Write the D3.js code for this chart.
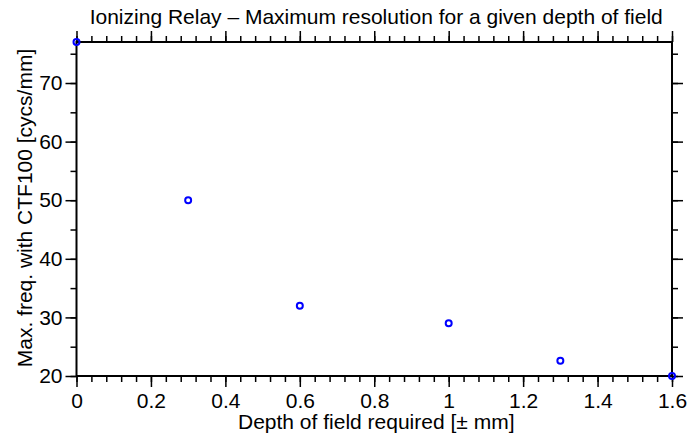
<!DOCTYPE html>
<meta charset="utf-8">
<script src="https://d3js.org/d3.v7.min.js"></script>
<style>
html, body { margin: 0; padding: 0; background: #fff; }
text { font-family: "Liberation Sans", Arial, sans-serif; fill: #000; }
.axis path, .axis line { stroke: #000; }
</style>
<body>
<div id="chart"></div>
<script>
// data
var depth = [0, 0.3, 0.6, 1.0, 1.3, 1.6];
var maxFreq = [77, 50, 32, 29, 22.6, 20];
var xTicks = [0, 0.2, 0.4, 0.6, 0.8, 1, 1.2, 1.4, 1.6];
var yTicks = [20, 30, 40, 50, 60, 70];
var xMinor = d3.range(0, 41).map(function(i) { return i * 0.04; });
var yMinor = [20, 25, 30, 35, 40, 45, 50, 55, 60, 65, 70, 75];

var width = 688, height = 434;
var mLeft = 76.5, mRight = 672, mTop = 42, mBottom = 376;
var fontSize = "21px";

var svg = d3.select("#chart").append("svg")
  .attr("width", width)
  .attr("height", height);

var x = d3.scaleLinear().domain([0, 1.6]).range([mLeft, mRight]);
var y = d3.scaleLinear().domain([20, 77]).range([mBottom, mTop]);

var fmt = function(d) { return String(+d.toFixed(1)); };

function addAxis(axis, tx, ty, labels) {
  var g = svg.append("g")
    .attr("class", "axis")
    .attr("transform", "translate(" + tx + "," + ty + ")")
    .call(axis);
  g.select(".domain").remove();
  g.selectAll("line").attr("stroke-width", 1.5);
  g.selectAll("text").style("font-size", fontSize);
  if (!labels) g.selectAll("text").remove();
  return g;
}

// minor ticks
addAxis(d3.axisBottom(x).tickValues(xMinor).tickSize(6).tickFormat(""), 0, mBottom, false);
addAxis(d3.axisTop(x).tickValues(xMinor).tickSize(6).tickFormat(""), 0, mTop, false);
addAxis(d3.axisLeft(y).tickValues(yMinor).tickSize(6).tickFormat(""), mLeft, 0, false);
addAxis(d3.axisRight(y).tickValues(yMinor).tickSize(6).tickFormat(""), mRight, 0, false);

// major ticks
addAxis(d3.axisBottom(x).tickValues(xTicks).tickSize(11).tickPadding(6).tickFormat(fmt), 0, mBottom, true);
addAxis(d3.axisTop(x).tickValues(xTicks).tickSize(11).tickFormat(""), 0, mTop, false);
addAxis(d3.axisLeft(y).tickValues(yTicks).tickSize(11).tickPadding(3).tickFormat(fmt), mLeft, 0, true);
addAxis(d3.axisRight(y).tickValues(yTicks).tickSize(11).tickFormat(""), mRight, 0, false);

// frame
svg.append("rect")
  .attr("x", mLeft).attr("y", mTop)
  .attr("width", mRight - mLeft).attr("height", mBottom - mTop)
  .attr("fill", "none").attr("stroke", "#000").attr("stroke-width", 2);

// points
svg.append("g").selectAll("circle")
  .data(depth)
  .enter().append("circle")
    .attr("cx", function(d) { return x(d); })
    .attr("cy", function(d, i) { return y(maxFreq[i]); })
    .attr("r", 3)
    .attr("fill", "none")
    .attr("stroke", "#0000ff")
    .attr("stroke-width", 2);

// titles
svg.append("text")
  .attr("x", (mLeft + mRight) / 2 + 2)
  .attr("y", 24)
  .attr("text-anchor", "middle")
  .style("font-size", fontSize)
  .text("Ionizing Relay \u2013 Maximum resolution for a given depth of field");

svg.append("text")
  .attr("x", (mLeft + mRight) / 2 + 2)
  .attr("y", 429)
  .attr("text-anchor", "middle")
  .style("font-size", fontSize)
  .text("Depth of field required [\u00b1 mm]");

svg.append("text")
  .attr("transform", "translate(32," + ((mTop + mBottom) / 2 - 1) + ") rotate(-90)")
  .attr("text-anchor", "middle")
  .style("font-size", fontSize)
  .text("Max. freq. with CTF100 [cycs/mm]");
</script>
</body>
